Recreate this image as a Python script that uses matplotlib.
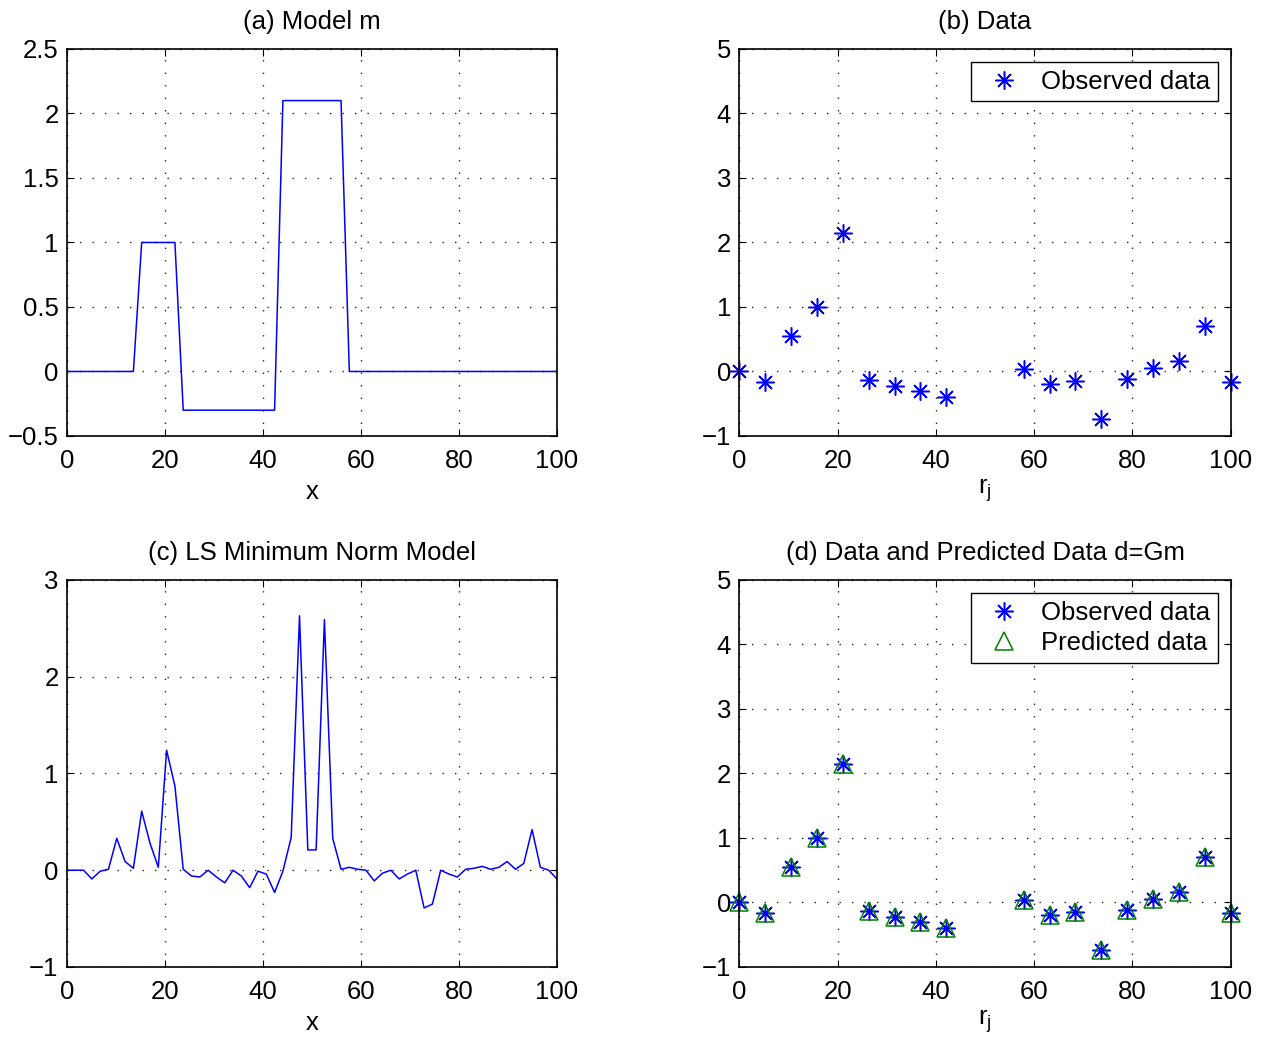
import numpy as np
import matplotlib.pyplot as plt
from matplotlib.ticker import FuncFormatter

plt.rcParams['font.family'] = ['Liberation Sans', 'DejaVu Sans']
plt.rcParams['axes.unicode_minus'] = True

# model sampled at 60 points on [0, 100]
x_model = np.linspace(0, 100, 60)
m_true = [0]*9 + [1]*5 + [-0.3]*12 + [2.1]*8 + [0]*26

# least-squares minimum norm model on the same grid
m_ls = [0.0, 0.0, 0.0, -0.09, -0.01, 0.01, 0.33, 0.09, 0.02, 0.61,
        0.28, 0.03, 1.24, 0.87, 0.01, -0.06, -0.07, 0.0, -0.07, -0.13,
        0.0, -0.06, -0.18, -0.01, -0.04, -0.23, -0.01, 0.34, 2.63, 0.21,
        0.21, 2.59, 0.33, 0.01, 0.03, 0.01, 0.0, -0.11, -0.03, 0.0,
        -0.09, -0.04, 0.0, -0.39, -0.35, 0.0, -0.04, -0.07, 0.01, 0.02,
        0.04, 0.01, 0.03, 0.09, 0.01, 0.07, 0.42, 0.03, 0.0, -0.09]

# observation points r_j and data
r_obs = [0.0, 5.26, 10.53, 15.79, 21.05, 26.32, 31.58, 36.84, 42.11,
         57.89, 63.16, 68.42, 73.68, 78.95, 84.21, 89.47, 94.74, 100.0]
d_obs = [0.0, -0.165, 0.55, 1.0, 2.15, -0.13, -0.22, -0.30, -0.40,
         0.04, -0.19, -0.14, -0.74, -0.11, 0.06, 0.155, 0.71, -0.17]
d_pred = [0.0, -0.165, 0.55, 1.0, 2.15, -0.13, -0.22, -0.30, -0.40,
          0.04, -0.19, -0.14, -0.74, -0.11, 0.06, 0.155, 0.71, -0.17]

FS = 18.5
ast = (8, 2, 0)


def fmt(v, pos):
    return ('%g' % v).replace('-', '\u2212')


def style(ax, ylim, yticks):
    ax.set_xlim(0, 100)
    ax.set_ylim(*ylim)
    ax.set_xticks([0, 20, 40, 60, 80, 100])
    ax.set_yticks(yticks)
    ax.yaxis.set_major_formatter(FuncFormatter(fmt))
    ax.tick_params(direction='in', length=5, top=True, right=True,
                   labelsize=FS)
    ax.tick_params(axis='x', pad=9.5)
    ax.tick_params(axis='y', pad=6)
    ax.grid(True, color='0.15', linestyle=(0, (1, 8)), linewidth=1)
    for s in ax.spines.values():
        s.set_linewidth(1.2)


def legend(ax):
    ax.legend(loc='upper right', fontsize=FS, fancybox=False, edgecolor='k',
              framealpha=1, borderaxespad=0.5, handlelength=1.9,
              handletextpad=0.5, borderpad=0.3, labelspacing=0.25)


fig = plt.figure(figsize=(12.63, 10.42), dpi=100)
ax1 = fig.add_axes([0.053, 0.5816, 0.388, 0.3714])
ax2 = fig.add_axes([0.5855, 0.5816, 0.3888, 0.3714])
ax3 = fig.add_axes([0.053, 0.072, 0.388, 0.3714])
ax4 = fig.add_axes([0.5855, 0.072, 0.3888, 0.3714])

ax1.plot(x_model, m_true, color='b', lw=1.1)
style(ax1, (-0.5, 2.5), [-0.5, 0, 0.5, 1, 1.5, 2, 2.5])
ax1.set_title('(a) Model m', fontsize=FS, pad=14.5)
ax1.set_xlabel('x', fontsize=FS, labelpad=5)

ax2.plot(r_obs, d_obs, ls='none', marker=ast, ms=13, mec='b', mew=1.1,
         color='b', label='Observed data', clip_on=False)
style(ax2, (-1, 5), [-1, 0, 1, 2, 3, 4, 5])
ax2.set_title('(b) Data', fontsize=FS, pad=14.5)
ax2.set_xlabel(r'r$_\mathregular{j}$', fontsize=FS, labelpad=3)
legend(ax2)

ax3.plot(x_model, m_ls, color='b', lw=1.1)
style(ax3, (-1, 3), [-1, 0, 1, 2, 3])
ax3.set_title('(c) LS Minimum Norm Model', fontsize=FS, pad=14.5)
ax3.set_xlabel('x', fontsize=FS, labelpad=5)

ax4.plot(r_obs, d_obs, ls='none', marker=ast, ms=13, mec='b', mew=1.1,
         color='b', label='Observed data', clip_on=False)
ax4.plot(r_obs, d_pred, ls='none', marker='^', ms=13, mec='g', mfc='none',
         mew=1.1, color='g', label='Predicted data', clip_on=False)
style(ax4, (-1, 5), [-1, 0, 1, 2, 3, 4, 5])
ax4.set_title('(d) Data and Predicted Data d=Gm', fontsize=FS, pad=14.5)
ax4.set_xlabel(r'r$_\mathregular{j}$', fontsize=FS, labelpad=3)
legend(ax4)

fig.savefig('out.png', dpi=100)
